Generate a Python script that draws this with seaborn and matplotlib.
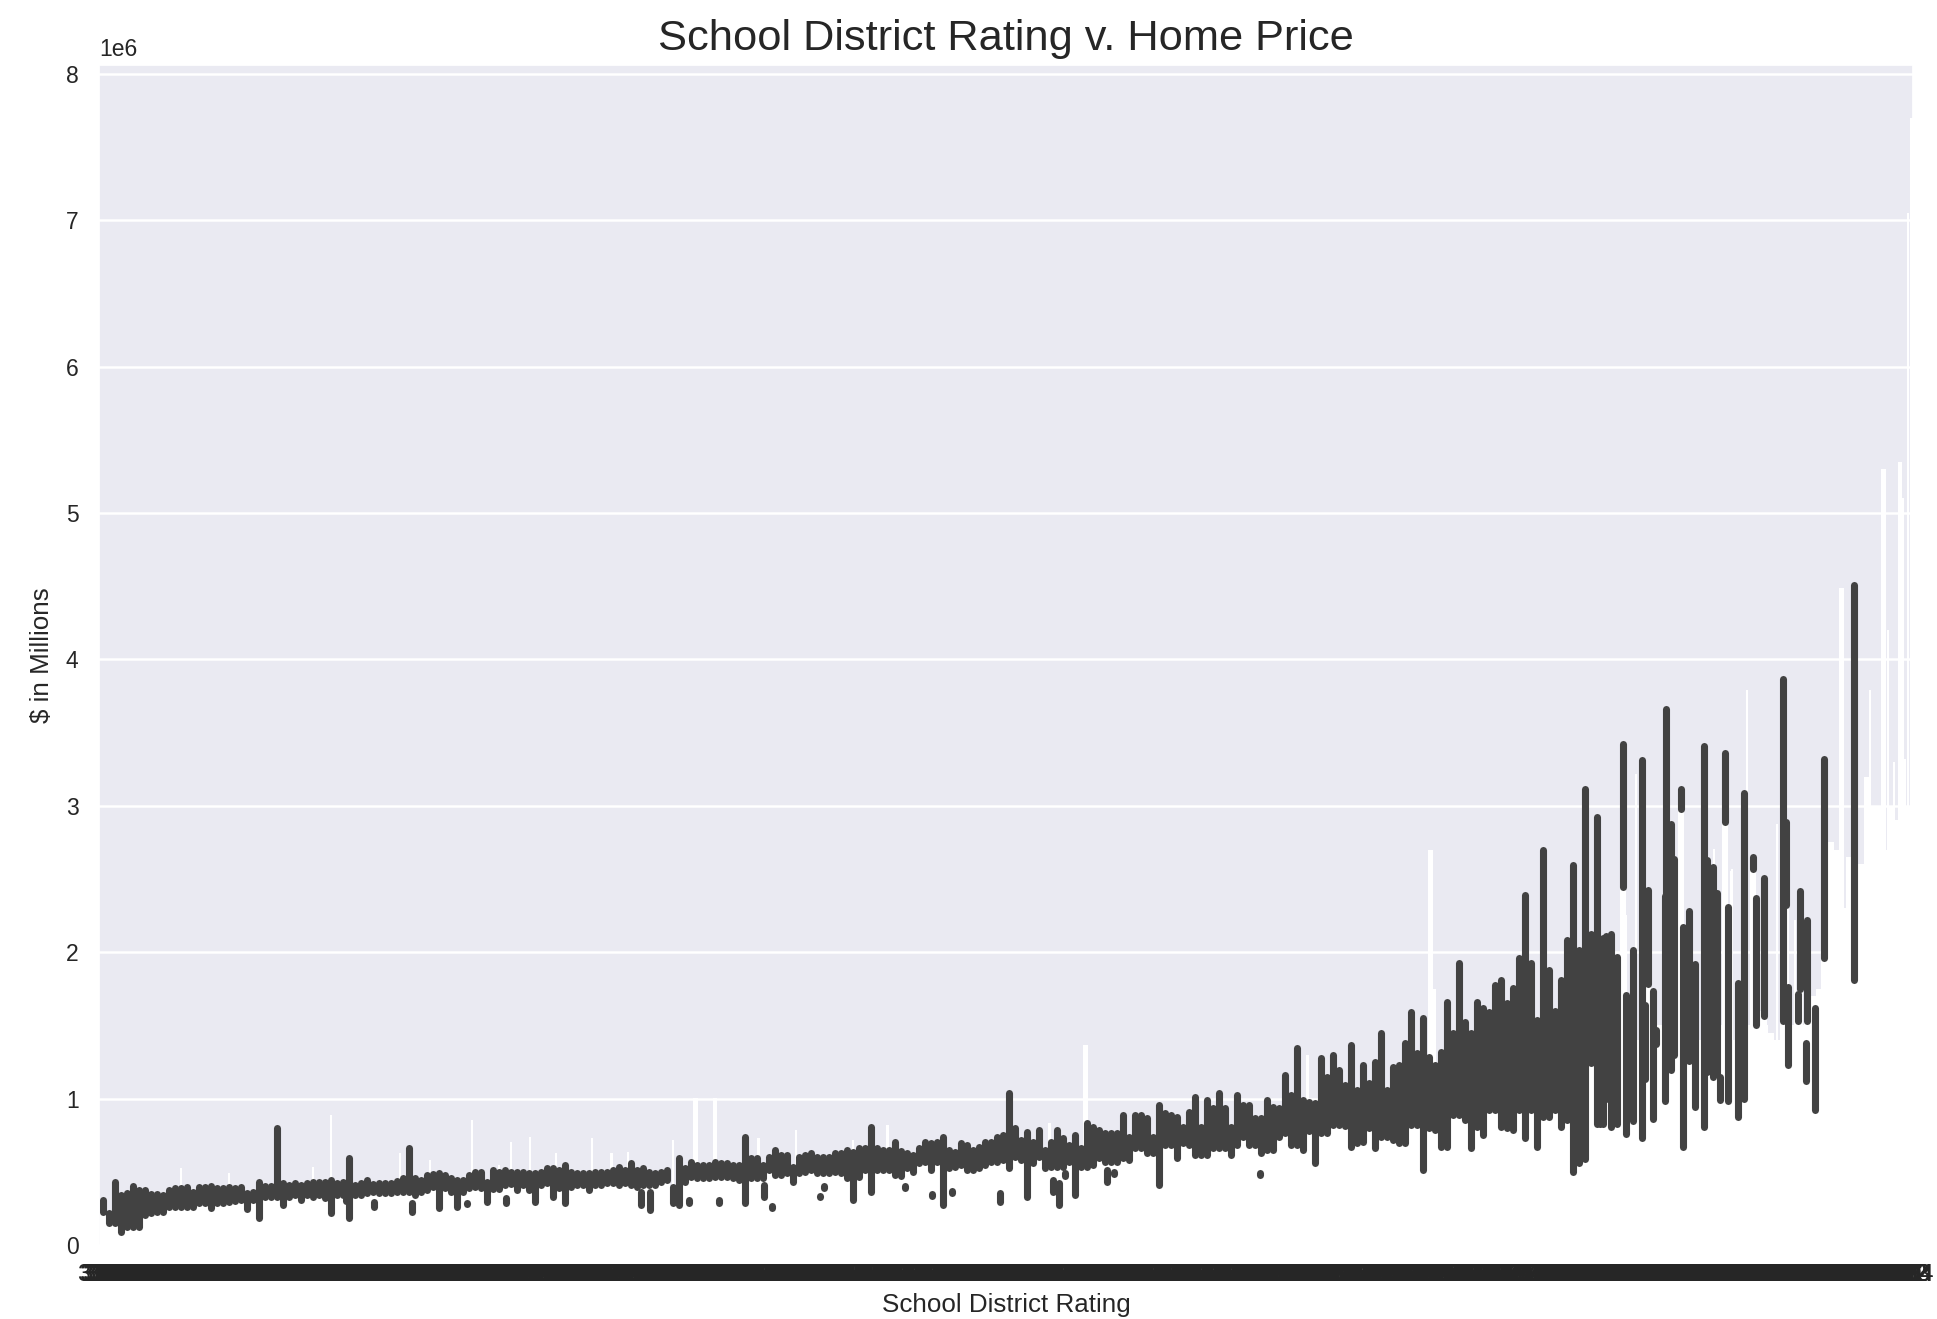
import matplotlib
matplotlib.use("Agg")
import matplotlib.pyplot as plt
import numpy as np
import pandas as pd
import seaborn as sns

# prices below are in thousands of dollars
# confidence band low / high per rating, ratings 3.01, 3.03, 3.05 ...
band_low = [
    228, 148, 148, 91, 125, 125, 125, 205, 216, 228, 228, 262, 262, 262, 262, 262, 285,
    289, 250, 289, 289, 296, 303, 307, 244, 307, 182, 326, 330, 330, 273, 330, 341, 307,
    341, 330, 341, 319, 216, 341, 341, 182, 341, 341, 353, 364, 353, 357, 357, 364, 364,
    364, 341, 364, 376, 394, 250, 387, 364, 364, 364, 387, 398, 387, 296, 380, 380,
    410, 420, 375, 410, 375, 296, 410, 421, 330, 387, 284, 398, 410, 410, 375, 410, 410,
    421, 421, 410, 421, 410, 398, 410, 410, 410, 432, 444, 284, 273, 432, 467, 455, 455,
    455, 467, 467, 467, 455, 444, 284, 455, 455, 455, 512, 478, 478, 490, 432, 490, 501,
    512, 490, 490, 490, 501, 490, 455, 306, 467, 512, 364, 512, 512, 512, 478, 470,
    523, 500, 557, 569, 512, 569, 569, 523, 534, 546, 512, 512, 523, 546, 569, 569, 580,
    523, 603, 580, 330, 557, 603, 523, 534, 534, 534, 569, 591, 534, 534, 546, 591, 569,
    569, 569, 591, 580, 660, 660, 626, 626, 409, 682, 682, 591, 694, 682, 614, 614, 614,
    660, 660, 660, 614, 682, 739, 682, 682, 626, 648, 648, 739, 762, 682, 682, 649,
    780, 558, 763, 763, 820, 820, 810, 672, 695, 706, 797, 660, 740, 740, 717, 695, 695,
    820, 820, 513, 797, 785, 672, 672, 888, 888, 854, 660, 808, 752, 922, 922, 808, 797,
    786, 922, 729, 922, 672, 877, 877, 922, 808, 854, 500, 558, 589, 1246, 827,
]
band_high = [
    307, 216, 433, 341, 353, 403, 376, 376, 348, 348, 341, 376, 387, 387, 398, 364, 398,
    398, 403, 387, 387, 394, 387, 394, 353, 364, 433, 403, 403, 797, 421, 410, 421, 410,
    421, 433, 433, 433, 444, 421, 433, 592, 410, 421, 444, 417, 421, 421, 421, 437, 455,
    660, 455, 444, 478, 485, 489, 478, 455, 444, 444, 478, 501, 501, 433, 510, 500,
    512, 500, 501, 501, 490, 490, 501, 524, 524, 512, 547, 501, 490, 490, 490, 501, 501,
    501, 512, 535, 512, 558, 512, 524, 501, 490, 501, 512, 398, 592, 524, 570, 547, 547,
    547, 569, 558, 558, 547, 547, 740, 592, 592, 547, 603, 649, 615, 615, 535, 603, 615,
    626, 603, 603, 603, 626, 626, 649, 637, 660, 660, 808, 660, 649, 649, 706, 640,
    626, 614, 660, 705, 694, 705, 739, 648, 637, 694, 682, 648, 671, 705, 705, 739, 751,
    1035, 796, 717, 774, 705, 785, 648, 705, 785, 728, 682, 751, 660, 831, 808, 785, 762,
    762, 762, 887, 739, 887, 887, 865, 739, 956, 899, 887, 876, 808, 910, 1013, 808, 990,
    933, 1035, 933, 808, 1024, 956, 956, 865, 865, 990, 944, 933, 1161, 1024, 1343, 990,
    980, 970, 1275, 1150, 1298, 1195, 1093, 1366, 1059, 1230, 1105, 1253, 1446, 1059, 1218,
    1230, 1378, 1594, 1309, 1549, 1287, 1230, 1321, 1662, 1446, 1924, 1526, 1446, 1662, 1617,
    1594, 1776, 1810, 1651, 1753, 1958, 2391, 1924, 1537, 2698, 1879, 1600, 1810, 2084, 2596,
    2015, 3112, 2124, 2921,
]

# isolated bands, the ratings with few homes
other_rating = [
    3.82, 3.915, 4.04, 4.19, 4.225, 4.355, 4.805, 4.835, 4.965, 5.065, 5.215, 5.24, 5.40, 5.415,
    5.685, 5.775, 5.81, 5.84, 6.0, 6.175, 6.195, 6.215, 6.25, 6.355, 6.38, 6.865,
    8.0, 8.01, 8.02, 8.035, 8.055, 8.075, 8.085, 8.095, 8.11, 8.14, 8.15, 8.16, 8.175, 8.185,
    8.215, 8.22, 8.235, 8.245, 8.27, 8.275, 8.295, 8.315, 8.345, 8.355, 8.375, 8.39, 8.40,
    8.415, 8.425, 8.46, 8.48, 8.51, 8.52, 8.545, 8.61, 8.62, 8.625, 8.66, 8.665, 8.685, 8.69,
    8.715, 8.745, 8.845,
]
other_low = [
    300, 262, 228, 262, 280, 284, 273, 239, 290, 290, 330, 255, 325, 390,
    390, 335, 273, 355, 297, 364, 273, 470, 341, 432, 485, 475,
    827, 827, 994, 803, 827, 2446, 756, 970, 850, 732, 1137, 1780, 861, 1375,
    982, 1420, 1196, 1300, 2981, 672, 1256, 946, 803, 1184, 1150, 1166, 990,
    2890, 982, 875, 994, 2570, 1502, 1563, 1532, 2325, 1228, 1532, 1746, 1121, 1532,
    922, 1960, 1807,
]
other_high = [
    315, 296, 285, 275, 290, 318, 364, 364, 305, 305, 410, 268, 338, 402,
    405, 350, 455, 370, 352, 443, 421, 490, 500, 512, 500, 490,
    1660, 2100, 2112, 2124, 1970, 3421, 1708, 1517, 2017, 3314, 1636, 2422, 1732, 1470,
    2386, 3659, 2874, 2636, 3118, 2172, 2279, 1922, 3408, 2630, 2585, 2402, 1150,
    3363, 2310, 1792, 3088, 2650, 2371, 2508, 3866, 2890, 1761, 1716, 2417, 1380, 2219,
    1620, 3317, 4506,
]

# plain bars with no band visible, right end of the axis
plain_rating = [
    8.01, 8.03, 8.05, 8.07, 8.09, 8.11, 8.13, 8.15, 8.17, 8.19, 8.21, 8.23, 8.25, 8.27,
    8.29, 8.31, 8.33, 8.35, 8.37, 8.39, 8.41, 8.43, 8.45, 8.47, 8.49,
    8.51, 8.53, 8.55, 8.57, 8.59, 8.61, 8.63, 8.65, 8.67, 8.69, 8.71, 8.73,
    8.75, 8.77, 8.79, 8.81, 8.83, 8.85, 8.87, 8.89, 8.91, 8.93, 8.95, 8.97, 8.99, 9.01, 9.03,
]
plain_price = [
    1300, 1400, 1500, 1500, 1600, 1500, 1400, 1500, 1600, 1500, 1500, 1400, 1500, 1600,
    1500, 1500, 1400, 1500, 1500, 1500, 1500, 1500, 1400, 1400, 1500,
    1500, 1600, 1500, 1450, 1400, 1400, 1450, 1500, 1500, 1600, 1700, 1750,
    1950, 2750, 2700, 2300, 2650, 2300, 2600, 3200, 3000, 3000, 2700, 3000, 2900, 3100, 3000,
]

# single expensive homes, thin white bars
thin_rating = [
    3.27, 3.43, 3.59, 3.71, 3.77, 3.84, 4.0, 4.1, 4.24, 4.33, 4.37, 4.435, 4.52, 4.64, 4.705,
    4.76, 4.91, 5.195, 5.32, 5.51, 5.625, 6.165, 7.025, 8.12, 8.085, 8.38, 8.44, 8.435, 8.49,
    8.59, 8.65, 8.765, 8.867, 8.89, 8.90, 8.925, 8.96, 8.98, 9.01, 9.015, 9.025,
]
thin_price = [
    524, 490, 592, 535, 888, 524, 626, 580, 854, 546, 705, 740, 626, 728, 626,
    637, 717, 728, 785, 717, 819, 830, 1298, 3219, 2255, 2707, 2565, 2554, 3790,
    2874, 2219, 2752, 3286, 3088, 3790, 2234, 4201, 3300, 5101, 3317, 7050,
]
wide_rating = [4.985, 5.05, 6.285, 7.435, 7.445, 8.805, 8.945, 9.0, 9.04]
wide_price = [1002, 1002, 1366, 2698, 1750, 4491, 5299, 5345, 7700]


def label(r):
    return str(round(float(r), 3))


all_ratings = [label(3 + 0.005 * i) for i in range(1209)]
band_rating = [3.01 + 0.02 * i for i in range(len(band_low))]

df_band = pd.DataFrame({
    "rating": [label(r) for r in band_rating + other_rating] * 2,
    "price": np.array(band_low + other_low + band_high + other_high) * 1000,
})
df_plain = pd.DataFrame({"rating": [label(r) for r in plain_rating], "price": np.array(plain_price) * 1000})
df_thin = pd.DataFrame({"rating": [label(r) for r in thin_rating], "price": np.array(thin_price) * 1000})
df_wide = pd.DataFrame({"rating": [label(r) for r in wide_rating], "price": np.array(wide_price) * 1000})

sns.set_theme(style="darkgrid")
plt.rcParams["font.family"] = ["Liberation Sans", "DejaVu Sans"]
plt.rcParams["grid.linewidth"] = 1.8

fig, ax = plt.subplots(figsize=(19.37, 13.19), dpi=100)
fig.subplots_adjust(left=99 / 1937, right=1913 / 1937, top=1 - 65 / 1319, bottom=1 - 1245 / 1319)

# the bars are so narrow that only their white edge shows
bar_kws = dict(x="rating", y="price", order=all_ratings, color="white", saturation=1, linewidth=0, ax=ax)
sns.barplot(data=df_plain, width=4, errorbar=None, **bar_kws)
sns.barplot(data=df_thin, width=1.5, errorbar=None, **bar_kws)
sns.barplot(data=df_wide, width=3, errorbar=None, **bar_kws)
sns.barplot(data=df_band, width=4, estimator="mean", errorbar=lambda v: (v.min(), v.max()),
            err_kws={"linewidth": 5.1, "color": "#424242"}, **bar_kws)

ax.set_xlim(-0.5, len(all_ratings) - 0.5)
ax.set_ylim(0, 8060000)
ax.set_xticks(range(len(all_ratings)))
ax.set_xticklabels([f"{float(r):.2f}" for r in all_ratings])
ax.set_title("School District Rating v. Home Price", fontsize=31.2, pad=11)
ax.set_xlabel("School District Rating", fontsize=18.7, labelpad=5.3)
ax.set_ylabel("$ in Millions", fontsize=18.7, labelpad=8.5)
ax.tick_params(axis="both", labelsize=16.5)
ax.tick_params(axis="x", pad=7)
ax.tick_params(axis="y", pad=8.7)
ax.yaxis.get_offset_text().set_fontsize(16.5)
ax.yaxis.OFFSETTEXTPAD = 6.5

fig.savefig("out.png", dpi=100)
